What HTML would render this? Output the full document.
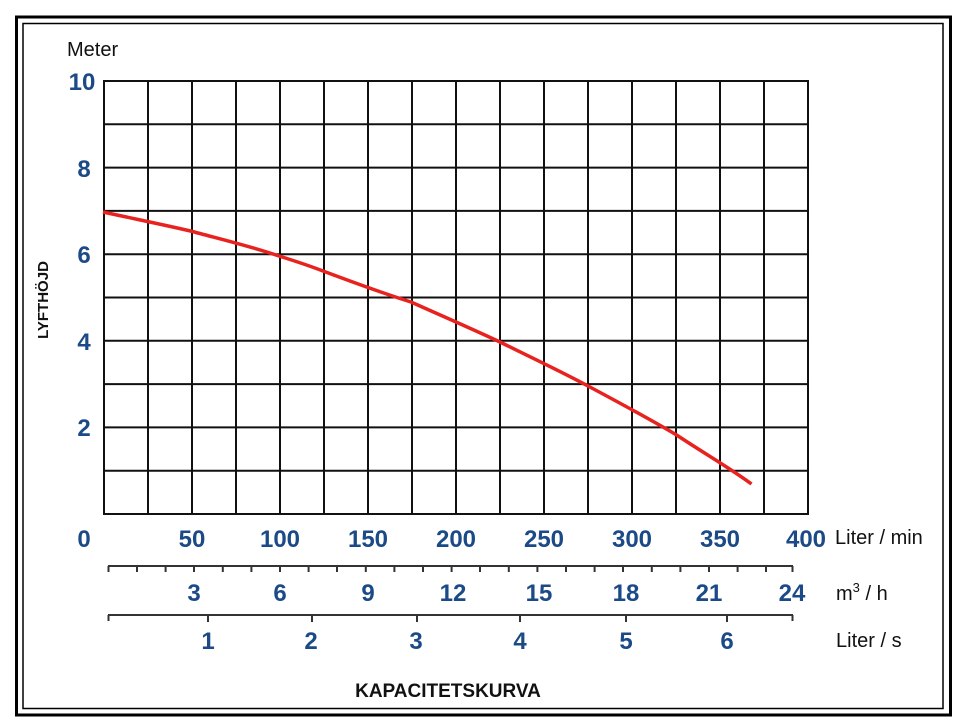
<!DOCTYPE html>
<html><head><meta charset="utf-8"><style>
html,body{margin:0;padding:0;background:#fff;}
svg{display:block;}
.b{font-family:"Liberation Sans",Arial,sans-serif;font-weight:bold;fill:#1b4a87;font-size:24px;}
.u{font-family:"Liberation Sans",Arial,sans-serif;fill:#111;font-size:20px;}
</style></head><body>
<svg width="969" height="723" viewBox="0 0 969 723" xmlns="http://www.w3.org/2000/svg">
<rect x="0" y="0" width="969" height="723" fill="#fff"/>
<rect x="16.5" y="17" width="934" height="698" fill="none" stroke="#000" stroke-width="3"/>
<rect x="23" y="23.5" width="920" height="685" fill="none" stroke="#000" stroke-width="1.5"/>
<g stroke="#111" stroke-width="2">
<line x1="104" y1="81" x2="104" y2="514"/><line x1="148" y1="81" x2="148" y2="514"/><line x1="192" y1="81" x2="192" y2="514"/><line x1="236" y1="81" x2="236" y2="514"/><line x1="280" y1="81" x2="280" y2="514"/><line x1="324" y1="81" x2="324" y2="514"/><line x1="368" y1="81" x2="368" y2="514"/><line x1="412" y1="81" x2="412" y2="514"/><line x1="456" y1="81" x2="456" y2="514"/><line x1="500" y1="81" x2="500" y2="514"/><line x1="544" y1="81" x2="544" y2="514"/><line x1="588" y1="81" x2="588" y2="514"/><line x1="632" y1="81" x2="632" y2="514"/><line x1="676" y1="81" x2="676" y2="514"/><line x1="720" y1="81" x2="720" y2="514"/><line x1="764" y1="81" x2="764" y2="514"/><line x1="808" y1="81" x2="808" y2="514"/>
<line x1="103" y1="81" x2="809" y2="81"/><line x1="103" y1="124.3" x2="809" y2="124.3"/><line x1="103" y1="167.6" x2="809" y2="167.6"/><line x1="103" y1="210.9" x2="809" y2="210.9"/><line x1="103" y1="254.2" x2="809" y2="254.2"/><line x1="103" y1="297.5" x2="809" y2="297.5"/><line x1="103" y1="340.8" x2="809" y2="340.8"/><line x1="103" y1="384.1" x2="809" y2="384.1"/><line x1="103" y1="427.4" x2="809" y2="427.4"/><line x1="103" y1="470.7" x2="809" y2="470.7"/><line x1="103" y1="514" x2="809" y2="514"/>
</g>
<path d="M103,212 C140,220 165,225 190.5,231 C220,239 250,246 279,256 C295,261 310,266 323,271 C355,283 385,294 411,302 C440,315 470,328 500,342 C530,357 560,371 588,386 C618,402 648,418 676.6,435 C702,452 730,468 751.5,484" fill="none" stroke="#e8231f" stroke-width="3.5"/>
<text class="u" x="67" y="56">Meter</text>
<g class="b" text-anchor="middle">
<text x="82" y="90">10</text><text x="84" y="177">8</text><text x="84" y="263">6</text><text x="84" y="350">4</text><text x="84" y="436">2</text>
<text x="84" y="547">0</text><text x="192" y="547">50</text><text x="280" y="547">100</text><text x="368" y="547">150</text><text x="456" y="547">200</text><text x="544" y="547">250</text><text x="632" y="547">300</text><text x="720" y="547">350</text><text x="806" y="547">400</text>
<text x="194" y="601">3</text><text x="280" y="601">6</text><text x="368" y="601">9</text><text x="453" y="601">12</text><text x="539" y="601">15</text><text x="626" y="601">18</text><text x="709" y="601">21</text><text x="792" y="601">24</text>
<text x="208" y="649">1</text><text x="311" y="649">2</text><text x="416" y="649">3</text><text x="520" y="649">4</text><text x="626" y="649">5</text><text x="727" y="649">6</text>
</g>
<text class="u" x="835" y="544">Liter / min</text>
<text class="u" x="836" y="600">m<tspan dy="-8" style="font-size:13px">3</tspan><tspan dy="8"> / h</tspan></text>
<text class="u" x="836" y="647">Liter / s</text>
<text class="u" style="font-size:15px;font-weight:bold" transform="translate(48,300) rotate(-90)" text-anchor="middle">LYFTHÖJD</text>
<text class="u" style="font-size:19px;font-weight:bold" x="448" y="697" text-anchor="middle">KAPACITETSKURVA</text>
<g stroke="#333" stroke-width="2" fill="none">
<line x1="108" y1="566" x2="793" y2="566"/>
<path d="M108.5,566v6M137,566v6M165.6,566v6M194,566v6M222.8,566v6M251.4,566v6M280,566v6M308.6,566v6M337,566v6M365.8,566v6M394.4,566v6M423,566v6M451.6,566v6M480,566v6M508.8,566v6M537.4,566v6M566,566v6M594.6,566v6M623,566v6M651.8,566v6M680.4,566v6M709,566v6M737.6,566v6M766,566v6M792.5,566v6"/>
<line x1="108" y1="615" x2="793" y2="615"/>
<path d="M108.5,615v6M208,615v7M312,615v7M417,615v7M520,615v7M626,615v7M727,615v7M792.5,615v6"/>
</g>
</svg>
</body></html>
